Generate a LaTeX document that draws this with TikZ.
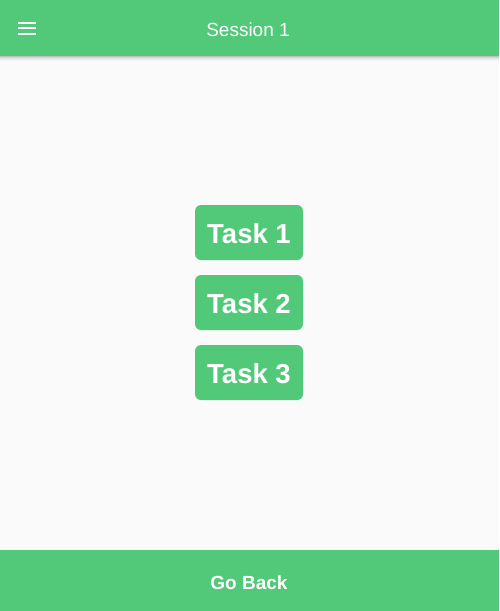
\documentclass[tikz,border=0pt]{standalone}
\usepackage{fontspec}
\setmainfont{Liberation Sans}
\definecolor{appgreen}{RGB}{82,200,121}
\definecolor{pagebg}{RGB}{250,250,250}
\begin{document}
\begin{tikzpicture}[x=1pt,y=-1pt,
  bar/.style={fill=appgreen,draw=none},
  taskbtn/.style={fill=appgreen,draw=none,rounded corners=6pt},
  tasktext/.style={text=white,font=\fontsize{27.5}{30}\selectfont\bfseries,anchor=base,inner sep=0pt},
  titletext/.style={text=white,font=\fontsize{19}{22}\selectfont,anchor=base,inner sep=0pt},
  backtext/.style={text=white,font=\fontsize{19}{22}\selectfont\bfseries,anchor=base,inner sep=0pt},
  menuline/.style={white,line width=2pt}]
\useasboundingbox (0,0) rectangle (499,611);
\fill[pagebg] (0,0) rectangle (499,611);
% header shadow
\foreach \i/\o in {0/0.22,1/0.15,2/0.09,3/0.05,4/0.02}{
  \fill[black,opacity=\o] (0,56+\i) rectangle (499,57+\i);
}
\fill[bar] (0,0) rectangle (499,56);
\coordinate (m1a) at (18,22.5); \coordinate (m1b) at (36,22.5);
\coordinate (m2a) at (18,28.3); \coordinate (m2b) at (36,28.3);
\coordinate (m3a) at (18,34); \coordinate (m3b) at (36,34);
\draw[menuline] (m1a) -- (m1b);
\draw[menuline] (m2a) -- (m2b);
\draw[menuline] (m3a) -- (m3b);
\node[titletext] (title) at (248,36) {Session 1};
% tasks
\fill[taskbtn] (195,205) rectangle (303,260);
\node[tasktext] (t1) at (249,243.5) {Task 1};
\fill[taskbtn] (195,275) rectangle (303,330);
\node[tasktext] (t2) at (249,313.5) {Task 2};
\fill[taskbtn] (195,345) rectangle (303,400);
\node[tasktext] (t3) at (249,383.5) {Task 3};
% footer
\fill[bar] (0,550) rectangle (499,611);
\node[backtext] (back) at (249,589) {Go Back};
\end{tikzpicture}
\end{document}
